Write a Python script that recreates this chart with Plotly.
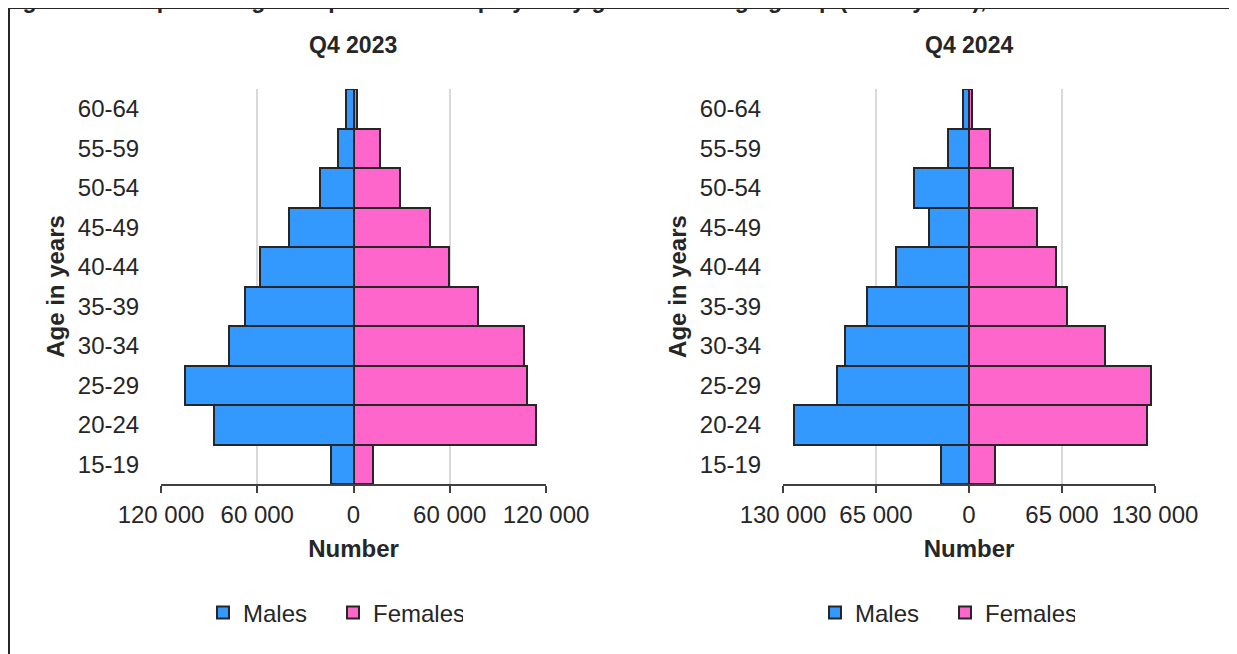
import plotly.graph_objects as go

W, H = 1237, 654
OFF = 8  # page body margin, the figure sits 8 px in from the window corner

ages = ["15-19", "20-24", "25-29", "30-34", "35-39",
        "40-44", "45-49", "50-54", "55-59", "60-64"]

# Q4 2023
males_2023 = [14000, 86700, 104800, 77700, 67500, 58500, 40400, 20900, 9600, 4800]
females_2023 = [11900, 113900, 108300, 106200, 77700, 59800, 47500, 29100, 16400, 2000]

# Q4 2024
males_2024 = [19600, 122300, 92300, 86700, 71500, 50800, 28200, 38700, 14700, 4000]
females_2024 = [18400, 124400, 127200, 95100, 68300, 60600, 47300, 30800, 14700, 2100]

ticks_2023 = [-120000, -60000, 0, 60000, 120000]
ticks_2024 = [-130000, -65000, 0, 65000, 130000]

MALE = "#3399FF"
FEMALE = "#FF66CC"
EDGE = "#262626"
TXT = "#262626"
FONT = "Liberation Sans, Arial, sans-serif"


def px_x(p):
    return (p - OFF) / W


def px_y(p):
    return 1 - (p - OFF) / H


def fmt(v):
    return f"{abs(v):,}".replace(",", " ")


fig = go.Figure()

panels = [
    (males_2023, females_2023, "x", "y", "legend"),
    (males_2024, females_2024, "x2", "y2", "legend2"),
]
for males, females, xa, ya, lg in panels:
    fig.add_trace(go.Bar(
        y=ages, x=[-v for v in males], orientation="h", name="Males",
        marker=dict(color=MALE, line=dict(color=EDGE, width=2)),
        xaxis=xa, yaxis=ya, legend=lg,
        customdata=males, hovertemplate="%{y}: %{customdata}<extra>Males</extra>",
    ))
    fig.add_trace(go.Bar(
        y=ages, x=females, orientation="h", name="Females",
        marker=dict(color=FEMALE, line=dict(color=EDGE, width=2)),
        xaxis=xa, yaxis=ya, legend=lg,
        hovertemplate="%{y}: %{x}<extra>Females</extra>",
    ))

y_dom = [px_y(484), px_y(89)]

common_x = dict(
    showgrid=True, gridcolor="#d9d9d9", gridwidth=1.5, zeroline=False,
    showline=True, linecolor="#404040", linewidth=1.5,
    ticks="outside", ticklen=7, tickcolor="#404040", tickwidth=1.5,
    ticklabelstandoff=1,
    tickfont=dict(size=24, color=TXT),
    title=dict(text="<b>Number</b>", font=dict(size=24, color=TXT), standoff=14),
    automargin=False, fixedrange=True,
)
common_y = dict(
    type="category", categoryorder="array", categoryarray=ages,
    showgrid=False, zeroline=False, showline=False,
    ticks="outside", ticklen=16, tickcolor="rgba(0,0,0,0)",
    tickfont=dict(size=24, color=TXT),
    title=dict(text="<b>Age in years</b>", font=dict(size=24, color=TXT), standoff=6),
    automargin=False, fixedrange=True,
)

legend_style = dict(orientation="h", xanchor="center", y=px_y(613), yanchor="middle",
                    font=dict(size=24, color=TXT), bgcolor="rgba(0,0,0,0)",
                    entrywidth=85, itemwidth=30)

fig.update_layout(
    width=W, height=H,
    margin=dict(l=0, r=0, t=0, b=0),
    paper_bgcolor="white", plot_bgcolor="white",
    font=dict(family=FONT, color=TXT),
    barmode="relative", bargap=0,
    xaxis=dict(domain=[px_x(161), px_x(546)], range=[-120000, 120000],
               tickvals=ticks_2023, ticktext=[fmt(v) for v in ticks_2023],
               anchor="y", **common_x),
    yaxis=dict(domain=y_dom, anchor="x", **common_y),
    xaxis2=dict(domain=[px_x(783), px_x(1155)], range=[-130000, 130000],
                tickvals=ticks_2024, ticktext=[fmt(v) for v in ticks_2024],
                anchor="y2", **common_x),
    yaxis2=dict(domain=y_dom, anchor="x2", **common_y),
    legend=dict(x=px_x(333), **legend_style),
    legend2=dict(x=px_x(945), **legend_style),
    showlegend=True,
)

# panel titles
for text, cx in [("Q4 2023", 353), ("Q4 2024", 969)]:
    fig.add_annotation(text=f"<b>{text}</b>", x=px_x(cx), y=px_y(45),
                       xref="paper", yref="paper", xanchor="center", yanchor="middle",
                       showarrow=False, font=dict(size=23, color=TXT))

# figure caption, cut off at the top edge as in the source
fig.add_annotation(
    text="<b>Figure 1.15: Mpumalanga's expanded unemployed by gender and age group (15-64 years), 2023-2024</b>",
    x=px_x(0), y=px_y(15), xref="paper", yref="paper", xanchor="left", yanchor="bottom",
    showarrow=False, font=dict(size=23, color=TXT),
)

# outer frame (left and top edges are visible)
fig.add_shape(type="line", xref="paper", yref="paper",
              x0=px_x(9), x1=px_x(9), y0=px_y(8), y1=px_y(700),
              line=dict(color=EDGE, width=2))
fig.add_shape(type="line", xref="paper", yref="paper",
              x0=px_x(9), x1=px_x(1300), y0=px_y(8), y1=px_y(8),
              line=dict(color=EDGE, width=2))

fig.write_html("out.html")
